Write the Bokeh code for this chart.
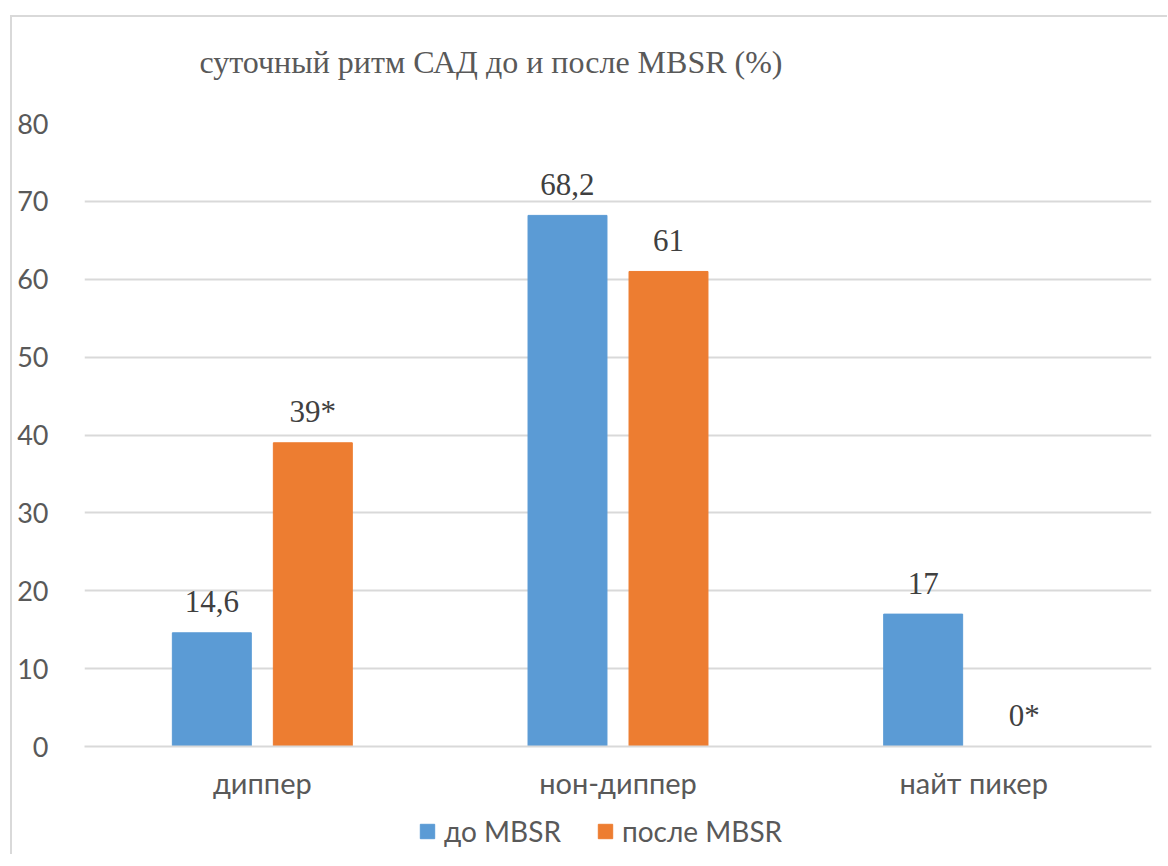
from bokeh.plotting import figure
from bokeh.layouts import column
from bokeh.models import (ColumnDataSource, FactorRange, Range1d, Legend,
                          LegendItem, Title)
from bokeh.transform import dodge
from bokeh.core.properties import value
from bokeh.embed import file_html
from bokeh.resources import INLINE

# Daily SBP rhythm profile before and after the MBSR course (%)
categories = ["диппер", "нон-диппер", "найт пикер"]
before_mbsr = [14.6, 68.2, 17.0]
after_mbsr = [39.0, 61.0, 0.0]
after_marks = ["*", "", "*"]          # significance markers
y_ticks = [0, 10, 20, 30, 40, 50, 60, 70, 80]

series_names = ["до MBSR", "после MBSR"]
title_text = "суточный ритм САД до и после MBSR (%)"

BLUE = "#5B9BD5"
ORANGE = "#ED7D31"
GRID = "#D9D9D9"
AXIS_TEXT = "#595959"
VALUE_TEXT = "#404040"


def fmt(v):
    s = f"{v:.1f}".rstrip("0").rstrip(".")
    return s.replace(".", ",")


source = ColumnDataSource(dict(
    cat=categories,
    before=before_mbsr,
    after=after_mbsr,
    before_lbl=[fmt(v) for v in before_mbsr],
    after_lbl=[fmt(v) + m for v, m in zip(after_mbsr, after_marks)],
))

p = figure(
    width=1155, height=794,
    x_range=FactorRange(factors=categories, range_padding=0),
    y_range=Range1d(0, 80),
    output_backend="svg", toolbar_location=None,
    min_border_left=72, min_border_right=16,
    min_border_top=106, min_border_bottom=65,
)
p.outline_line_color = None
p.background_fill_color = "white"
p.border_fill_color = "white"

# title, lifted above the plot area by a thin spacer row
spacer = Title(text=" ", text_font_size="1px", standoff=41)
chart_title = Title(text=title_text, align="left", offset=115, standoff=0,
                    text_font="Liberation Serif", text_font_size="32px",
                    text_font_style="normal", text_color=AXIS_TEXT)
p.add_layout(spacer, "above")
p.add_layout(chart_title, "above")

off = 0.142
bw = 0.222
p.vbar(x=dodge("cat", -off, range=p.x_range), top="before", width=bw,
       source=source, fill_color=BLUE, line_color=BLUE)
p.vbar(x=dodge("cat", off, range=p.x_range), top="after", width=bw,
       source=source, fill_color=ORANGE, line_color=ORANGE)

for col, lbl, dx in (("before", "before_lbl", -off), ("after", "after_lbl", off)):
    p.text(x=dodge("cat", dx, range=p.x_range), y=col, text=lbl, source=source,
           text_align="center", text_baseline="alphabetic", y_offset=-31,
           text_font=value("Liberation Serif"), text_font_size="31px",
           text_color=VALUE_TEXT)

# axes
p.yaxis.ticker = y_ticks
p.yaxis.axis_line_color = None
p.yaxis.major_tick_line_color = None
p.yaxis.minor_tick_line_color = None
p.yaxis.major_label_standoff = 30
p.yaxis.major_label_text_font = "Lato"
p.yaxis.major_label_text_font_size = "27px"
p.yaxis.major_label_text_color = AXIS_TEXT

p.xaxis.axis_line_color = GRID
p.xaxis.axis_line_width = 2
p.xaxis.major_tick_line_color = None
p.xaxis.minor_tick_line_color = None
p.xaxis.major_tick_out = 0
p.xaxis.major_tick_in = 0
p.xaxis.major_label_standoff = 18
p.xaxis.major_label_text_font = "Lato"
p.xaxis.major_label_text_font_size = "29px"
p.xaxis.major_label_text_color = AXIS_TEXT

p.xgrid.grid_line_color = None
p.ygrid.grid_line_color = GRID
p.ygrid.grid_line_width = 2

# legend row under the chart (its keys sit outside the visible range)
lf = figure(
    width=800, height=40, x_range=Range1d(0, 1), y_range=Range1d(0, 1),
    output_backend="svg", toolbar_location=None, min_border=0,
    x_axis_location=None, y_axis_location=None, margin=(3, 0, 0, 334),
)
lf.outline_line_color = None
lf.xgrid.grid_line_color = None
lf.ygrid.grid_line_color = None
k1 = lf.vbar(x=[-1.0], top=[0.0], width=0.1, fill_color=BLUE, line_color=BLUE)
k2 = lf.vbar(x=[-1.0], top=[0.0], width=0.1, fill_color=ORANGE, line_color=ORANGE)

legend = Legend(
    items=[LegendItem(label=series_names[0], renderers=[k1]),
           LegendItem(label=series_names[1], renderers=[k2])],
    orientation="horizontal", location="top_left",
    border_line_color=None, background_fill_alpha=0,
    glyph_width=18, glyph_height=18, label_text_font="Lato",
    label_text_font_size="28px", label_text_color=AXIS_TEXT,
    spacing=35, padding=0, margin=0, label_standoff=8,
)
lf.add_layout(legend)

page = column(p, lf, margin=(15, 0, 0, 10),
              styles={"border-left": f"2px solid {GRID}",
                      "border-top": f"2px solid {GRID}"})

open("out.html", "w").write(file_html(page, INLINE))
